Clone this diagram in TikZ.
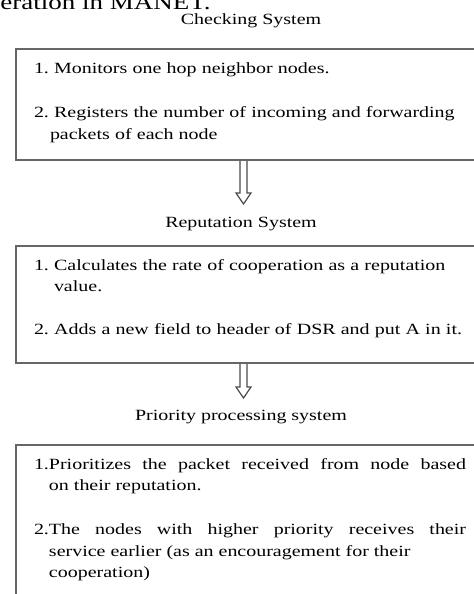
\documentclass[tikz,border=0pt]{standalone}
\usepackage{fontspec}
\setmainfont{Liberation Serif}[FakeStretch=1.28]
\usetikzlibrary{positioning, calc}
\tikzset{
  panel/.style={draw=black!60, line width=1pt, anchor=north west, text width=216pt,
    inner xsep=9pt, inner ysep=5pt, text height=7pt,
    font=\fontsize{7.8}{10.75}\selectfont\frenchspacing},
  heading/.style={anchor=base, inner sep=0pt, font=\fontsize{7.8}{10}\selectfont},
  capline/.style={anchor=base west, inner sep=0pt, font=\fontsize{10.55}{12}\selectfont},
  hollow/.style={draw=black!70, line width=0.6pt,
    to path={($(\tikztostart)+(-1.75pt,0)$) |- ($(\tikztotarget)+(-3.75pt,5.5pt)$)
      -- (\tikztotarget) -- ($(\tikztotarget)+(3.75pt,5.5pt)$)
      -| ($(\tikztostart)+(1.75pt,0)$)}},
}

\begin{document}
\begin{tikzpicture}
  \useasboundingbox (0,0) rectangle (237pt,-297pt);
  \clip (0,0) rectangle (237pt,-297pt);
  \node[capline] (cap) at (0,-4.75pt) {eration in MANET.};
  % checking system
  \node[panel, align=left, text depth=38.5pt] (chkbox) at (7.5pt,-24pt) {%
    \hangindent=8pt 1. Monitors one hop neighbor nodes.\par\vspace{11.5pt}%
    \hangindent=8pt 2. Registers the number of incoming and forwarding packets of each node\par};
  \node[heading] (chk) at ($(chkbox.north west)+(118pt,11.5pt)$) {Checking System};
  \coordinate (tip1) at ($(chkbox.south west)+(114.25pt,-21.5pt)$);
  \coordinate (tail1) at (chkbox.south west -| tip1);
  \draw[hollow] (tail1) to (tip1);
  % reputation system
  \node[panel, align=left, text depth=41.5pt, below=42pt of chkbox.south west, anchor=north west] (repbox) {%
    \hangindent=10pt 1. Calculates the rate of cooperation as a reputation value.\par\vspace{10.75pt}%
    \hangindent=10pt 2. Adds a new field to header of DSR and put A in it.\par};
  \node[heading] (rep) at ($(repbox.north west)+(113pt,8.65pt)$) {Reputation System};
  \coordinate (tip2) at ($(repbox.south west)+(114.25pt,-17pt)$);
  \coordinate (tail2) at (repbox.south west -| tip2);
  \draw[hollow] (tail2) to (tip2);
  % priority processing system
  \node[panel, align=justify, text depth=80pt, below=40pt of repbox.south west, anchor=north west] (priobox) {%
    \hangindent=7.5pt 1.Prioritizes the packet received from node based\linebreak on their reputation.\par\vspace{11.25pt}%
    \hangindent=7.5pt 2.The nodes with higher priority receives their\linebreak service earlier (as an encouragement for their\newline cooperation)\par};
  \node[heading] (prio) at ($(priobox.north west)+(113pt,12pt)$) {Priority processing system};
\end{tikzpicture}
\end{document}
